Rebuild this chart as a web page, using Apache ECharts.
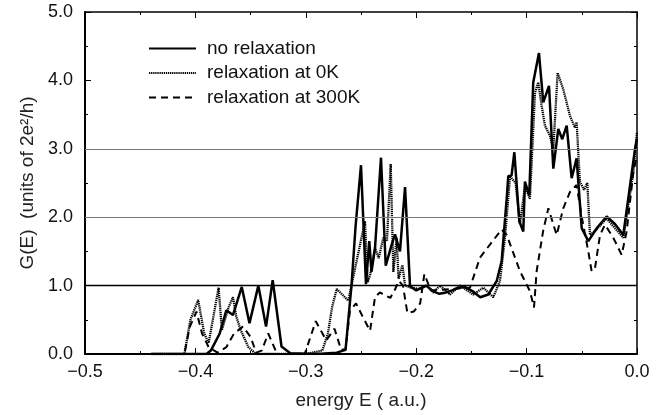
<!DOCTYPE html>
<html>
<head>
<meta charset="utf-8">
<script src="https://cdn.jsdelivr.net/npm/echarts@6/dist/echarts.min.js"></script>
<style>
  html, body { margin: 0; padding: 0; background: #fff; }
  #chart { width: 669px; height: 415px; }
</style>
</head>
<body>
<div id="chart"></div>
<script>
// Series names
const seriesNames = ['no relaxation', 'relaxation at 0K', 'relaxation at 300K'];

// no relaxation (solid)
const noRelaxE = [-0.44, -0.39, -0.386, -0.378, -0.372, -0.366, -0.358, -0.351, -0.343, -0.336, -0.330, -0.322, -0.314, -0.29, -0.272, -0.264, -0.2585, -0.255, -0.250, -0.2455, -0.2425, -0.2405, -0.2373, -0.2319, -0.2276, -0.2222, -0.2192, -0.2147, -0.2101, -0.2056, -0.200, -0.191, -0.185, -0.179, -0.173, -0.1675, -0.162, -0.156, -0.149, -0.142, -0.1347, -0.127, -0.1226, -0.118, -0.1166, -0.1136, -0.1111, -0.1066, -0.103, -0.1015, -0.0976, -0.094, -0.0888, -0.0849, -0.0797, -0.0758, -0.0713, -0.0677, -0.0637, -0.0592, -0.0547, -0.0501, -0.0441, -0.036, -0.0275, -0.02, -0.0124, -0.0018, 0.0];
const noRelaxG = [0, 0, 0.05, 0.3, 0.64, 0.57, 0.98, 0.45, 1.0, 0.4, 1.08, 0.11, 0.01, 0, 0.02, 0.06, 1.02, 1.85, 2.76, 1.02, 1.65, 1.2, 1.55, 2.87, 1.29, 1.6, 1.75, 1.5, 2.44, 0.99, 0.93, 1.0, 0.92, 0.88, 0.9, 0.93, 0.97, 0.98, 0.92, 0.83, 0.87, 1.07, 1.36, 2.28, 2.6, 2.61, 2.95, 1.94, 1.79, 2.52, 2.32, 3.97, 4.4, 3.68, 3.92, 2.71, 3.29, 3.14, 3.34, 2.57, 2.86, 1.84, 1.65, 1.85, 2.01, 1.9, 1.74, 3.0, 3.15];

// relaxation at 0K (dotted)
const relax0E = [-0.44, -0.41, -0.4045, -0.3975, -0.392, -0.388, -0.379, -0.376, -0.370, -0.366, -0.363, -0.359, -0.352, -0.345, -0.30, -0.285, -0.280, -0.276, -0.272, -0.2615, -0.2464, -0.2440, -0.2418, -0.2373, -0.2340, -0.2298, -0.2265, -0.2231, -0.2207, -0.2177, -0.216, -0.2125, -0.2101, -0.205, -0.197, -0.19, -0.1845, -0.1784, -0.1694, -0.1603, -0.1483, -0.1392, -0.1302, -0.1241, -0.1196, -0.1166, -0.115, -0.110, -0.106, -0.1015, -0.097, -0.0924, -0.0894, -0.0864, -0.0834, -0.0788, -0.0758, -0.0719, -0.0668, -0.0607, -0.0562, -0.0547, -0.0517, -0.048, -0.0450, -0.0426, -0.038, -0.0275, -0.0124, -0.0033, 0.0];
const relax0G = [0, 0, 0.5, 0.79, 0.3, 0.16, 0.97, 0.35, 0.68, 0.83, 0.55, 0.35, 0.1, 0, 0, 0.05, 0.3, 0.7, 0.95, 0.78, 1.94, 1.05, 1.15, 1.55, 1.4, 1.7, 1.65, 2.78, 1.2, 1.7, 1.1, 1.3, 1.0, 0.97, 0.95, 1.0, 0.9, 1.0, 0.87, 1.0, 0.87, 0.97, 0.83, 1.07, 1.7, 2.28, 2.6, 2.5, 1.9, 2.45, 2.27, 3.82, 3.97, 3.63, 3.34, 3.19, 3.0, 4.11, 3.87, 3.48, 3.31, 3.39, 2.52, 2.4, 2.5, 1.74, 1.8, 1.98, 1.7, 2.66, 3.24];

// relaxation at 300K (dashed)
const relax300E = [-0.44, -0.41, -0.405, -0.399, -0.394, -0.388, -0.38, -0.372, -0.365, -0.357, -0.350, -0.345, -0.34, -0.334, -0.326, -0.301, -0.291, -0.2815, -0.274, -0.268, -0.264, -0.26, -0.2545, -0.2486, -0.2418, -0.2373, -0.2330, -0.2235, -0.219, -0.2158, -0.212, -0.208, -0.2022, -0.1964, -0.1926, -0.1868, -0.1675, -0.1513, -0.1422, -0.1332, -0.1226, -0.118, -0.106, -0.097, -0.0933, -0.0909, -0.0850, -0.0803, -0.0728, -0.0668, -0.0607, -0.0547, -0.0500, -0.0441, -0.0411, -0.038, -0.0335, -0.0290, -0.0215, -0.0139, -0.0094, -0.0033, 0.0];
const relax300G = [0, 0, 0.4, 0.62, 0.3, 0.1, 0.02, 0.1, 0.3, 0.4, 0.25, 0.02, 0.05, 0.3, 0.0, 0.0, 0.48, 0.2, 0.37, 0.06, 0.07, 0.63, 0.74, 0.55, 0.34, 0.83, 0.9, 0.82, 0.95, 1.07, 1.0, 0.6, 0.62, 0.74, 1.17, 0.93, 0.95, 0.97, 1.41, 1.6, 1.82, 1.74, 1.21, 0.92, 0.68, 1.21, 1.8, 2.13, 1.74, 2.13, 2.37, 2.47, 2.0, 1.5, 1.21, 1.26, 1.74, 1.89, 1.7, 1.45, 1.79, 2.66, 2.9];

// quantized conductance levels drawn as horizontal lines
const levels = [1, 2, 3];

const pairs = (xs, ys) => xs.map((x, i) => [x, ys[i]]);
const fmtX = v => (v < 0 ? '\u2212' : '') + Math.abs(v).toFixed(1);

const font = 'Liberation Sans, Arial, sans-serif';

const chart = echarts.init(document.getElementById('chart'));

function frameAxis(extra) {
  return Object.assign({
    axisLine: { show: true, onZero: false, lineStyle: { color: '#000', width: 2 } },
    axisTick: { show: true, inside: true, length: 6, lineStyle: { color: '#000', width: 1 } },
    minorTick: { show: true, splitNumber: 2, length: 3, lineStyle: { color: '#000', width: 1 } },
    splitLine: { show: false },
  }, extra);
}

const option = {
  animation: false,
  grid: { left: 85, right: 32, top: 12, bottom: 58 },
  legend: {
    orient: 'vertical',
    left: 143,
    top: 34,
    itemWidth: 47,
    itemHeight: 14,
    itemGap: 5.5,
    itemStyle: { opacity: 0 },
    textStyle: { fontFamily: font, fontSize: 19, lineHeight: 19, color: '#111', padding: [0, 0, 0, 6] },
    data: seriesNames,
  },
  xAxis: [
    frameAxis({
      type: 'value', min: -0.5, max: 0, interval: 0.1,
      name: 'energy E ( a.u.)', nameLocation: 'middle', nameGap: 37,
      nameTextStyle: { fontFamily: font, fontSize: 19, color: '#222' },
      axisLabel: { formatter: fmtX, fontFamily: font, fontSize: 18, color: '#111', margin: 9 },
    }),
    frameAxis({
      type: 'value', min: -0.5, max: 0, interval: 0.1, position: 'top',
      axisLine: { show: true, onZero: false, lineStyle: { color: '#000', width: 1.5 } },
      axisLabel: { show: false },
    }),
  ],
  yAxis: [
    frameAxis({
      type: 'value', min: 0, max: 5, interval: 1,
      name: 'G(E)  (units of 2e\u00B2/h)', nameLocation: 'middle', nameGap: 46,
      nameTextStyle: { fontFamily: font, fontSize: 19, color: '#222' },
      axisLabel: { formatter: v => v.toFixed(1), fontFamily: font, fontSize: 18, color: '#111', margin: 12 },
    }),
    frameAxis({
      type: 'value', min: 0, max: 5, interval: 1, position: 'right',
      axisLine: { show: true, onZero: false, lineStyle: { color: '#000', width: 1.5 } },
      axisLabel: { show: false },
    }),
  ],
  series: [
    {
      name: seriesNames[0], type: 'line', symbol: 'none',
      data: pairs(noRelaxE, noRelaxG),
      lineStyle: { color: '#000', width: 2.5, type: 'solid' },
      itemStyle: { color: '#000' },
      z: 4,
      markLine: {
        silent: true, symbol: 'none', label: { show: false },
        data: levels.map(v => ({
          yAxis: v,
          lineStyle: { color: v === 1 ? '#000' : '#777', width: v === 1 ? 1.3 : 1.2, type: 'solid' },
        })),
      },
    },
    {
      name: seriesNames[1], type: 'line', symbol: 'none',
      data: pairs(relax0E, relax0G),
      lineStyle: { color: '#000', width: 2.3, type: [1.3, 0.8] },
      itemStyle: { color: '#000' },
      z: 3,
    },
    {
      name: seriesNames[2], type: 'line', symbol: 'none',
      data: pairs(relax300E, relax300G),
      lineStyle: { color: '#000', width: 2, type: [7, 5] },
      itemStyle: { color: '#000' },
      z: 2,
    },
  ],
};

chart.setOption(option);
window.addEventListener('resize', () => chart.resize());
</script>
</body>
</html>
